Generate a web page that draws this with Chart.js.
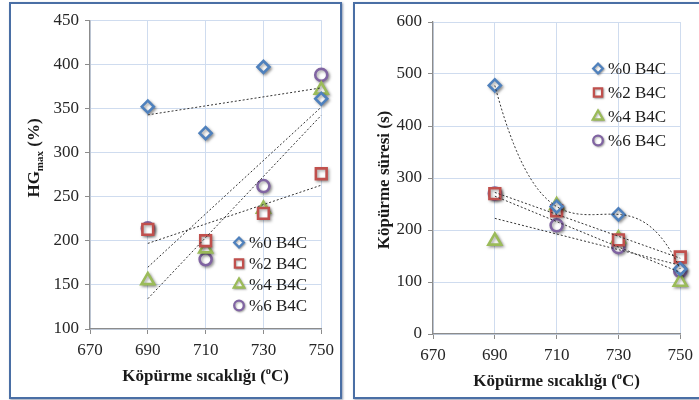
<!DOCTYPE html>
<html>
<head>
<meta charset="utf-8">
<script src="https://cdn.jsdelivr.net/npm/chart.js@4.4.1/dist/chart.umd.min.js"></script>
<style>
  body { margin: 0; width: 699px; height: 400px; overflow: hidden; background: #fff; position: relative; }
  .panel { position: absolute; top: 2px; height: 397px; box-sizing: border-box; border: 2px solid #4a6fa5;
           box-shadow: 1px 1px 2px rgba(40, 60, 100, .5); background: #fff; overflow: hidden; }
  #p1 { left: 9px; width: 333px; }
  #p2 { left: 353px; width: 360px; }
  canvas { position: absolute; left: 0; top: 0; }
</style>
</head>
<body>
<div class="panel" id="p1"><canvas id="c1" width="329" height="393"></canvas></div>
<div class="panel" id="p2"><canvas id="c2" width="344" height="393"></canvas></div>
<script>
// data
const temps = [690, 710, 730, 750];
const seriesNames = ['%0 B4C', '%2 B4C', '%4 B4C', '%6 B4C'];
const xTicks = [670, 690, 710, 730, 750];

const hgB0 = [352, 322, 397, 361];
const hgB2 = [213, 200, 231, 276];
const hgB4 = [155, 191, 236, 371];
const hgB6 = [214, 179, 262, 388];
const hgTicks = [100, 150, 200, 250, 300, 350, 400, 450];

const timeB0 = [478, 245, 230, 125];
const timeB2 = [270, 237, 181, 148];
const timeB4 = [179, 247, 183, 100];
const timeB6 = [270, 209, 167, 121];
const timeTicks = [0, 100, 200, 300, 400, 500, 600];

const colors = ['#4f81bd', '#c0504d', '#9bbb59', '#8064a2'];
const styles = ['rectRot', 'rect', 'triangle', 'circle'];
const radii = [6, 7.6, 7.4, 6];
const legendRadii = [4.8, 5.8, 6, 4.8];
const serif = '"Liberation Serif", "Times New Roman", serif';

// Excel style trendlines, fitted from the series above
function polyFit(xs, ys, deg) {
  const x0 = 720, s = 20;
  const n = deg + 1;
  const A = [], b = [];
  for (let i = 0; i < n; i++) {
    A.push(new Array(n).fill(0));
    b.push(0);
  }
  xs.forEach((xv, k) => {
    const t = (xv - x0) / s;
    for (let i = 0; i < n; i++) {
      b[i] += ys[k] * Math.pow(t, i);
      for (let j = 0; j < n; j++) A[i][j] += Math.pow(t, i + j);
    }
  });
  for (let c = 0; c < n; c++) {
    let p = c;
    for (let r = c + 1; r < n; r++) if (Math.abs(A[r][c]) > Math.abs(A[p][c])) p = r;
    [A[c], A[p]] = [A[p], A[c]];
    [b[c], b[p]] = [b[p], b[c]];
    for (let r = 0; r < n; r++) {
      if (r === c) continue;
      const f = A[r][c] / A[c][c];
      for (let j = c; j < n; j++) A[r][j] -= f * A[c][j];
      b[r] -= f * b[c];
    }
  }
  const coef = b.map((v, i) => v / A[i][i]);
  return xv => coef.reduce((acc, cf, i) => acc + cf * Math.pow((xv - x0) / s, i), 0);
}

function trendPoints(ys, deg) {
  const f = polyFit(temps, ys, deg);
  const pts = [];
  const step = deg === 1 ? 60 : 1;
  for (let xv = temps[0]; xv <= temps[temps.length - 1]; xv += step) pts.push({ x: xv, y: f(xv) });
  return pts;
}

function buildDatasets(seriesList, degrees) {
  const sets = [];
  seriesList.forEach((ys, i) => {
    sets.push({
      label: 'trend ' + seriesNames[i],
      data: trendPoints(ys, degrees[i]),
      showLine: true,
      borderColor: '#333',
      borderWidth: 1,
      borderDash: [2, 2],
      pointRadius: 0,
      clip: false,
      order: 0,
      isTrend: true
    });
  });
  seriesList.forEach((ys, i) => {
    sets.push({
      label: seriesNames[i],
      data: temps.map((t, k) => ({ x: t, y: ys[k] })),
      pointStyle: styles[i],
      pointRadius: radii[i],
      pointBorderWidth: 2.6,
      borderColor: colors[i],
      backgroundColor: '#fff',
      showLine: false,
      clip: false,
      order: 1
    });
  });
  return sets;
}

// draws text pieces (for sub and superscripts), optionally rotated
function drawParts(ctx, parts, cx, cy, rotate) {
  ctx.save();
  ctx.translate(cx, cy);
  if (rotate) ctx.rotate(-Math.PI / 2);
  ctx.fillStyle = '#1a1a1a';
  ctx.textBaseline = 'alphabetic';
  ctx.textAlign = 'left';
  let total = 0;
  parts.forEach(p => {
    ctx.font = 'bold ' + p.size + 'px ' + serif;
    p.w = ctx.measureText(p.text).width;
    total += p.w;
  });
  let x = -total / 2;
  parts.forEach(p => {
    ctx.font = 'bold ' + p.size + 'px ' + serif;
    ctx.fillText(p.text, x, 6 + (p.dy || 0));
    x += p.w;
  });
  ctx.restore();
}

function makeExtras(cfg) {
  return {
    id: 'extras',
    beforeDatasetDraw(chart, args) {
      const ds = chart.data.datasets[args.index];
      chart.ctx.save();
      if (!ds.isTrend) {
        chart.ctx.shadowColor = 'rgba(0,0,0,0.35)';
        chart.ctx.shadowBlur = 3;
        chart.ctx.shadowOffsetX = 1.5;
        chart.ctx.shadowOffsetY = 1.5;
      }
    },
    afterDatasetDraw(chart) {
      chart.ctx.restore();
    },
    afterDraw(chart) {
      const ctx = chart.ctx;
      const area = chart.chartArea;
      // legend inside the plot
      seriesNames.forEach((name, i) => {
        const y = cfg.legendY + i * cfg.legendGap;
        ctx.save();
        ctx.shadowColor = 'rgba(0,0,0,0.3)';
        ctx.shadowBlur = 2;
        ctx.shadowOffsetX = 1;
        ctx.shadowOffsetY = 1;
        ctx.strokeStyle = colors[i];
        ctx.fillStyle = '#fff';
        ctx.lineWidth = 2.3;
        Chart.helpers.drawPoint(ctx, { pointStyle: styles[i], radius: legendRadii[i], borderWidth: 2.3, rotation: 0 }, cfg.legendX, y);
        ctx.restore();
        ctx.save();
        ctx.font = '17px ' + serif;
        ctx.fillStyle = '#1a1a1a';
        ctx.textBaseline = 'middle';
        ctx.fillText(name, cfg.legendX + 10, y + 1);
        ctx.restore();
      });
      // axis titles
      drawParts(ctx, [
        { text: 'Köpürme sıcaklığı (', size: 17 },
        { text: 'o', size: 10.5, dy: -7 },
        { text: 'C)', size: 17 }
      ], (area.left + area.right) / 2, cfg.xTitleY, false);
      drawParts(ctx, cfg.yTitle, cfg.yTitleX, cfg.yTitleY, true);
    }
  };
}

function makeChart(id, seriesList, degrees, yTicks, cfg) {
  const gridColor = '#cfdcef';
  const axisColor = '#8c8c8c';
  const tickFont = { family: serif, size: 17 };
  return new Chart(document.getElementById(id), {
    type: 'scatter',
    data: { datasets: buildDatasets(seriesList, degrees) },
    options: {
      responsive: false,
      animation: false,
      events: [],
      layout: { padding: { top: cfg.top, left: 0, right: 0, bottom: 0 } },
      plugins: { legend: { display: false }, tooltip: { enabled: false } },
      scales: {
        x: {
          type: 'linear',
          min: xTicks[0],
          max: xTicks[xTicks.length - 1],
          ticks: { stepSize: xTicks[1] - xTicks[0], font: tickFont, color: '#262626', padding: 6 },
          grid: { color: gridColor, tickColor: axisColor, tickLength: 5 },
          border: { color: axisColor, width: 1.3 },
          afterFit: s => { s.height = cfg.xHeight; }
        },
        y: {
          type: 'linear',
          min: yTicks[0],
          max: yTicks[yTicks.length - 1],
          ticks: { stepSize: yTicks[1] - yTicks[0], font: tickFont, color: '#262626', padding: 6 },
          grid: { color: gridColor, tickColor: axisColor, tickLength: 5 },
          border: { color: axisColor, width: 1.3 },
          afterFit: s => { s.width = cfg.yWidth; }
        }
      }
    },
    plugins: [makeExtras(cfg)]
  });
}

makeChart('c1', [hgB0, hgB2, hgB4, hgB6], [1, 1, 1, 1], hgTicks, {
  top: 14, xHeight: 68, yWidth: 79,
  legendX: 228, legendY: 238.5, legendGap: 21,
  xTitleY: 371,
  yTitleX: 22, yTitleY: 154,
  yTitle: [
    { text: 'HG', size: 17 },
    { text: 'max', size: 11, dy: 4 },
    { text: ' (%)', size: 17 }
  ]
});

makeChart('c2', [timeB0, timeB2, timeB4, timeB6], [3, 1, 1, 1], timeTicks, {
  top: 18, xHeight: 63, yWidth: 78,
  legendX: 243, legendY: 64.5, legendGap: 24,
  xTitleY: 376,
  yTitleX: 28, yTitleY: 176,
  yTitle: [{ text: 'Köpürme süresi (s)', size: 17 }]
});
</script>
</body>
</html>
